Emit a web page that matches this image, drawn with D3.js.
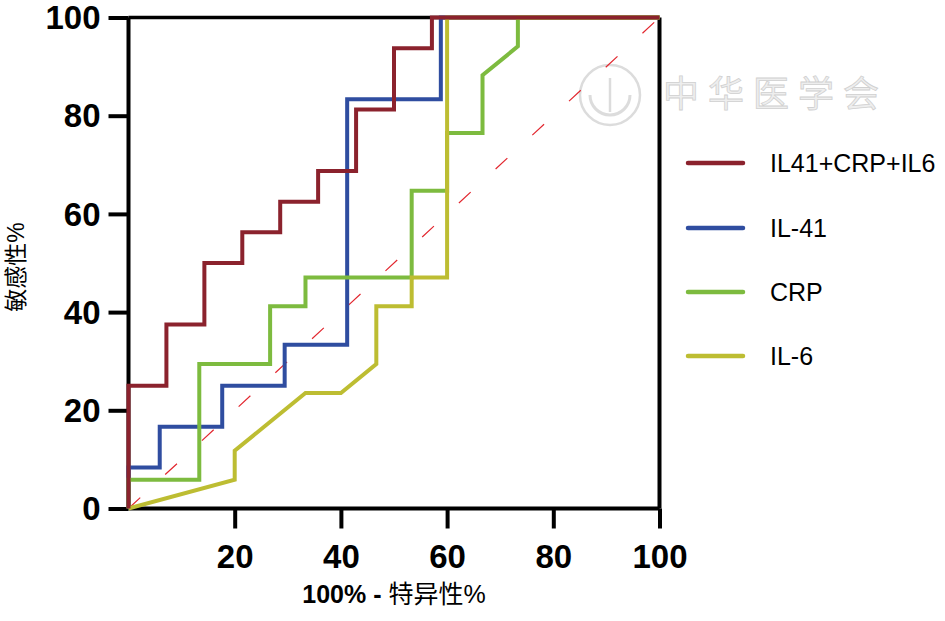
<!DOCTYPE html>
<html>
<head>
<meta charset="utf-8">
<script src="https://cdn.jsdelivr.net/npm/d3@7"></script>
<style>
  html, body { margin: 0; padding: 0; background: #fff; }
  svg { display: block; }
</style>
</head>
<body>
<svg id="chart" width="945" height="621"></svg>
<script>
// ---- data ----
const seriesNames = ["IL41+CRP+IL6", "IL-41", "CRP", "IL-6"];
const seriesColors = ["#8b222d", "#2f4da0", "#7dbb3f", "#bdbd32"];

const comboX = [0, 0, 7.14, 7.14, 14.29, 14.29, 21.43, 21.43, 28.57, 28.57, 35.71, 35.71, 42.86, 42.86, 50, 50, 57.14, 57.14, 100];
const comboY = [0, 25, 25, 37.5, 37.5, 50, 50, 56.25, 56.25, 62.5, 62.5, 68.75, 68.75, 81.25, 81.25, 93.75, 93.75, 100, 100];

const il41X = [0, 0, 5.88, 5.88, 17.65, 17.65, 29.41, 29.41, 41.18, 41.18, 58.82, 58.82, 100];
const il41Y = [0, 8.33, 8.33, 16.67, 16.67, 25, 25, 33.33, 33.33, 83.33, 83.33, 100, 100];

const crpX = [0, 0, 13.33, 13.33, 26.67, 26.67, 33.33, 33.33, 53.33, 53.33, 60, 60, 66.67, 66.67, 73.33, 73.33, 100];
const crpY = [0, 5.88, 5.88, 29.41, 29.41, 41.18, 41.18, 47.06, 47.06, 64.71, 64.71, 76.47, 76.47, 88.24, 94.12, 100, 100];

const il6X = [0, 20, 20, 33.33, 40, 46.67, 46.67, 53.33, 53.33, 60, 60, 100];
const il6Y = [0, 5.88, 11.76, 23.53, 23.53, 29.41, 41.18, 41.18, 47.06, 47.06, 100, 100];

const yTicks = [0, 20, 40, 60, 80, 100];
const xTicks = [20, 40, 60, 80, 100];
const refX = [0, 100];
const refY = [0, 100];

// ---- drawing ----
const svg = d3.select("#chart");
const latin = "'Liberation Sans', Arial, sans-serif";
const cjk = "'Liberation Sans', 'Noto Sans CJK SC', sans-serif";

const x = d3.scaleLinear().domain([0, 100]).range([128.5, 659.5]);
const y = d3.scaleLinear().domain([0, 100]).range([508.5, 17.5]);

// watermark
const wm = svg.append("g").attr("class", "watermark");
wm.append("circle").attr("cx", 610).attr("cy", 95).attr("r", 30)
  .attr("fill", "none").attr("stroke", "#dcdcdc").attr("stroke-width", 2.5);
wm.append("path").attr("d", "M590,95 A20,20 0 0,0 630,95")
  .attr("fill", "none").attr("stroke", "#dcdcdc").attr("stroke-width", 3);
wm.append("line").attr("x1", 610).attr("y1", 78).attr("x2", 610).attr("y2", 112)
  .attr("stroke", "#dcdcdc").attr("stroke-width", 2.5);
wm.append("text").attr("x", 663).attr("y", 107)
  .attr("font-family", "'Noto Sans CJK SC', sans-serif")
  .attr("font-size", 36).attr("letter-spacing", 9)
  .attr("fill", "#eeeeee").attr("stroke", "#d0d0d0").attr("stroke-width", 0.8)
  .text("中华医学会");

// frame (top & right)
svg.append("line").attr("x1", x(0)).attr("x2", x(100)).attr("y1", y(100)).attr("y2", y(100))
  .attr("stroke", "#000").attr("stroke-width", 3.5);
svg.append("line").attr("x1", x(100)).attr("x2", x(100)).attr("y1", y(100)).attr("y2", y(0))
  .attr("stroke", "#000").attr("stroke-width", 4);

// reference diagonal
svg.append("path")
  .datum(refX.map((v, i) => [v, refY[i]]))
  .attr("d", d3.line().x(d => x(d[0])).y(d => y(d[1])))
  .attr("fill", "none").attr("stroke", "#e2262e").attr("stroke-width", 1.2)
  .attr("stroke-dasharray", "16,34");

// axes
const yAxis = d3.axisLeft(y).tickValues(yTicks).tickSize(20).tickPadding(8).tickFormat(d3.format("d"));
const gy = svg.append("g").attr("transform", `translate(${x(0)},0)`).call(yAxis);
const xAxis = d3.axisBottom(x).tickValues(xTicks).tickSize(20).tickPadding(16).tickFormat(d3.format("d"));
const gx = svg.append("g").attr("transform", `translate(0,${y(0)})`).call(xAxis);

[gx, gy].forEach(g => {
  g.select(".domain").attr("stroke", "#000").attr("stroke-width", 4);
  g.selectAll(".tick line").attr("stroke", "#000").attr("stroke-width", 4);
  g.selectAll(".tick text").attr("fill", "#000")
    .attr("font-family", latin).attr("font-weight", "bold").attr("font-size", 33);
});
gy.selectAll(".tick text").attr("dy", "0.34em");
gy.select(".domain").attr("d", `M0,${y(0)}V${y(100)}`);
gx.select(".domain").attr("d", `M${x(0)},0H${x(100)}`);

// series (drawn bottom to top: IL-41, CRP, IL-6, combined)
const seriesData = [
  comboX.map((v, i) => [v, comboY[i]]),
  il41X.map((v, i) => [v, il41Y[i]]),
  crpX.map((v, i) => [v, crpY[i]]),
  il6X.map((v, i) => [v, il6Y[i]])
];
const line = d3.line().x(d => x(d[0])).y(d => y(d[1]));
const drawOrder = [1, 2, 3, 0];
drawOrder.forEach(i => {
  svg.append("path").datum(seriesData[i]).attr("d", line)
    .attr("fill", "none").attr("stroke", seriesColors[i])
    .attr("stroke-width", 4).attr("stroke-linejoin", "miter").attr("stroke-linecap", "butt");
});

// axis titles
svg.append("text")
  .attr("transform", "translate(24,267) rotate(-90)")
  .attr("text-anchor", "middle")
  .attr("font-family", cjk).attr("font-size", 23).attr("fill", "#000")
  .text("敏感性%");

const xt = svg.append("text").attr("x", 394).attr("y", 603).attr("text-anchor", "middle")
  .attr("font-family", cjk).attr("font-size", 25).attr("fill", "#000");
xt.append("tspan").attr("font-weight", "bold").text("100% - ");
xt.append("tspan").text("特异性%");

// legend
const legendY = [163, 228, 292, 356];
const lg = svg.append("g");
seriesNames.forEach((name, i) => {
  lg.append("line").attr("x1", 688).attr("x2", 743).attr("y1", legendY[i]).attr("y2", legendY[i])
    .attr("stroke", seriesColors[i]).attr("stroke-width", 4.5).attr("stroke-linecap", "round");
  lg.append("text").attr("x", 770).attr("y", legendY[i]).attr("dy", "0.35em")
    .attr("font-family", latin).attr("font-size", 25).attr("fill", "#000")
    .text(name);
});
</script>
</body>
</html>
